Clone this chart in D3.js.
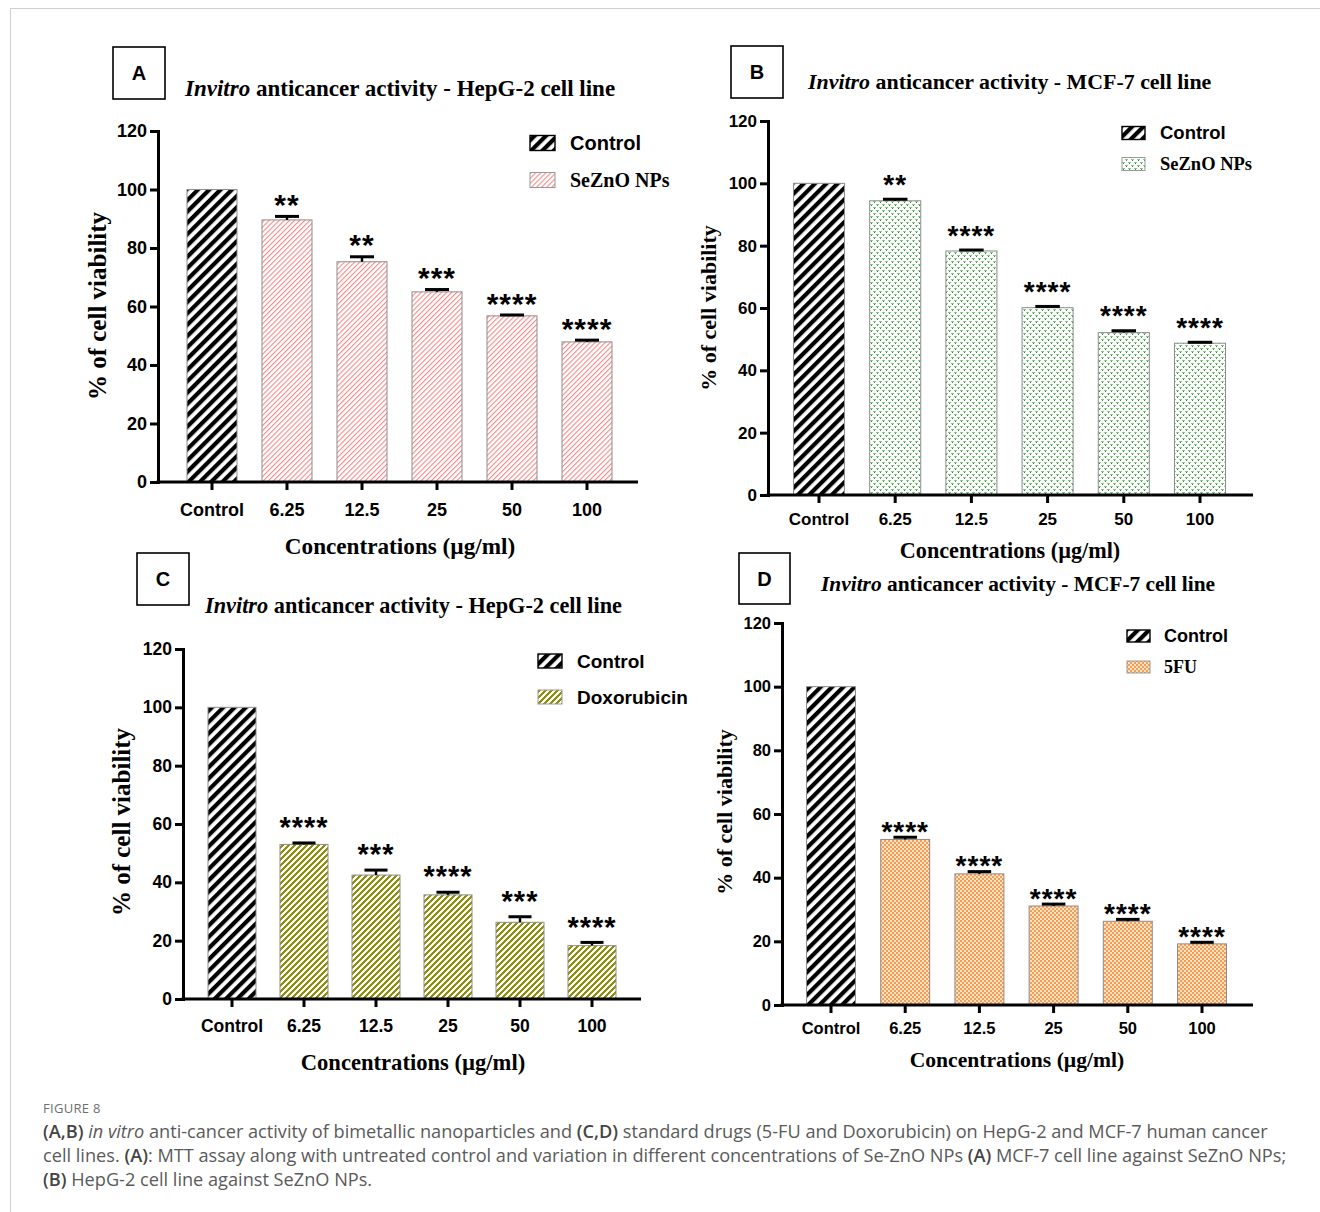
<!DOCTYPE html>
<html>
<head>
<meta charset="utf-8">
<script src="https://cdn.jsdelivr.net/npm/d3@7"></script>
<style>
  body { margin: 0; background: #fff; }
  svg { display: block; }
</style>
</head>
<body>
<svg id="fig" width="1320" height="1212"></svg>
<script>
// ---- data ----
const categories = ["Control", "6.25", "12.5", "25", "50", "100"];
const yTicks = [0, 20, 40, 60, 80, 100, 120];

// HepG-2, SeZnO NPs
const hepgSeZnO = [100, 89.6, 75.3, 65.0, 56.8, 47.9];
const hepgSeZnOErr = [0, 1.2, 1.7, 0.8, 0.3, 0.6];
const hepgSeZnOStars = ["", "**", "**", "***", "****", "****"];

// MCF-7, SeZnO NPs
const mcfSeZnO = [100, 94.4, 78.3, 60.1, 52.1, 48.7];
const mcfSeZnOErr = [0, 0.5, 0.3, 0.4, 0.6, 0.3];
const mcfSeZnOStars = ["", "**", "****", "****", "****", "****"];

// HepG-2, Doxorubicin
const hepgDox = [100, 53.0, 42.5, 35.7, 26.3, 18.3];
const hepgDoxErr = [0, 0.5, 1.7, 0.9, 1.9, 1.1];
const hepgDoxStars = ["", "****", "***", "****", "***", "****"];

// MCF-7, 5FU
const mcf5fu = [100, 52.0, 41.2, 31.1, 26.3, 19.2];
const mcf5fuErr = [0, 0.7, 0.7, 0.6, 0.6, 0.5];
const mcf5fuStars = ["", "****", "****", "****", "****", "****"];

const SANS = "'Liberation Sans', Arial, sans-serif";
const SERIF = "'Liberation Serif', 'Times New Roman', serif";

const svg = d3.select("#fig");
const defs = svg.append("defs");

// ---- fill patterns ----
function stripes(id, period, thick, color, bg) {
  const p = defs.append("pattern").attr("id", id)
    .attr("patternUnits", "userSpaceOnUse")
    .attr("width", period).attr("height", period)
    .attr("patternTransform", "rotate(45)");
  p.append("rect").attr("width", period).attr("height", period).attr("fill", bg);
  p.append("rect").attr("width", thick).attr("height", period).attr("fill", color);
}
stripes("pControl", 8, 4.2, "#000", "#fff");
stripes("pPink", 3.6, 1.1, "#f28a8a", "#fff");

// olive stair-step diagonal pattern
(function () {
  const p = defs.append("pattern").attr("id", "pOlive")
    .attr("patternUnits", "userSpaceOnUse").attr("width", 6).attr("height", 6);
  p.append("rect").attr("width", 6).attr("height", 6).attr("fill", "#fff");
  [[0, 4], [1, 3], [2, 2], [3, 1], [4, 0], [5, 5]].forEach(([x0, y0]) => {
    p.append("rect").attr("x", x0).attr("y", y0).attr("width", 2).attr("height", 2).attr("fill", "#8f8f0c");
  });
  p.append("rect").attr("x", 0).attr("y", 0).attr("width", 1).attr("height", 1).attr("fill", "#8f8f0c");
})();

// green dotted pattern
(function () {
  const p = defs.append("pattern").attr("id", "pGreen")
    .attr("patternUnits", "userSpaceOnUse").attr("width", 6).attr("height", 6);
  p.append("rect").attr("width", 6).attr("height", 6).attr("fill", "#fff");
  [[0, 0], [3, 3]].forEach(([x0, y0]) => {
    p.append("rect").attr("x", x0).attr("y", y0).attr("width", 3).attr("height", 1).attr("fill", "#86c886");
    p.append("rect").attr("x", x0 + 1).attr("y", y0 + 1).attr("width", 1).attr("height", 1).attr("fill", "#2f8f2f");
  });
})();

// orange checker pattern
(function () {
  const p = defs.append("pattern").attr("id", "pOrange")
    .attr("patternUnits", "userSpaceOnUse").attr("width", 4).attr("height", 4);
  p.append("rect").attr("width", 4).attr("height", 4).attr("fill", "#fde2c8");
  p.append("rect").attr("x", 0).attr("y", 0).attr("width", 2).attr("height", 2).attr("fill", "#f59d50");
  p.append("rect").attr("x", 2).attr("y", 2).attr("width", 2).attr("height", 2).attr("fill", "#f59d50");
})();

// ---- figure frame ----
svg.append("line").attr("x1", 10).attr("x2", 1320).attr("y1", 8.5).attr("y2", 8.5)
  .attr("stroke", "#cfcfcf").attr("stroke-width", 1);
svg.append("line").attr("x1", 10.5).attr("x2", 10.5).attr("y1", 8).attr("y2", 1212)
  .attr("stroke", "#cfcfcf").attr("stroke-width", 1);

// ---- one bar-chart panel ----
function drawPanel(cfg) {
  const g = svg.append("g");

  // letter box
  g.append("rect").attr("x", cfg.box.x).attr("y", cfg.box.y)
    .attr("width", cfg.box.s).attr("height", cfg.box.s)
    .attr("fill", "none").attr("stroke", "#000").attr("stroke-width", 1.6);
  g.append("text").attr("x", cfg.box.x + cfg.box.s / 2).attr("y", cfg.box.y + cfg.box.s / 2 + 7)
    .attr("text-anchor", "middle").attr("font-family", SANS).attr("font-weight", "bold")
    .attr("font-size", 20).text(cfg.letter);

  // title
  const t = g.append("text").attr("x", cfg.title.x).attr("y", cfg.title.y)
    .attr("font-family", SERIF).attr("font-weight", "bold").attr("font-size", cfg.title.size);
  t.append("tspan").attr("font-style", "italic").text("Invitro");
  t.append("tspan").text(" anticancer activity - " + cfg.cell + " cell line");

  const y = d3.scaleLinear().domain([0, 120]).range([cfg.yBottom, cfg.yTop]);
  const x = d3.scaleBand().domain(categories).range(cfg.band)
    .paddingInner(cfg.padIn).paddingOuter(cfg.padIn / 2);

  // bars
  g.selectAll("rect.bar").data(categories).enter().append("rect")
    .attr("class", "bar")
    .attr("x", d => x(d)).attr("width", x.bandwidth())
    .attr("y", (d, i) => y(cfg.values[i]))
    .attr("height", (d, i) => y(0) - y(cfg.values[i]))
    .attr("fill", (d, i) => i === 0 ? "url(#pControl)" : `url(#${cfg.pattern})`)
    .attr("stroke", "#8d8d8d").attr("stroke-width", 1);

  // error bars (upper half) and significance stars
  const capW = x.bandwidth() * 0.48;
  categories.forEach((d, i) => {
    const cx = x(d) + x.bandwidth() / 2;
    const e = cfg.errors[i];
    if (e > 0) {
      g.append("line").attr("x1", cx).attr("x2", cx)
        .attr("y1", y(cfg.values[i])).attr("y2", y(cfg.values[i] + e))
        .attr("stroke", "#000").attr("stroke-width", 2.4);
      g.append("line").attr("x1", cx - capW / 2).attr("x2", cx + capW / 2)
        .attr("y1", y(cfg.values[i] + e)).attr("y2", y(cfg.values[i] + e))
        .attr("stroke", "#000").attr("stroke-width", 3);
    }
    if (cfg.stars[i]) {
      const centre = y(cfg.values[i] + e) - cfg.starGap;
      g.append("text").attr("x", cx).attr("y", centre + 0.557 * cfg.starSize)
        .attr("text-anchor", "middle").attr("font-family", SANS).attr("font-weight", "bold")
        .attr("font-size", cfg.starSize).attr("letter-spacing", cfg.starSpacing)
        .text(cfg.stars[i]);
    }
  });

  // y axis
  const ya = g.append("g").attr("transform", `translate(${cfg.yAxisX},0)`)
    .call(d3.axisLeft(y).tickValues(yTicks).tickSize(8).tickSizeOuter(0).tickPadding(3));
  ya.select(".domain").attr("stroke-width", 3).attr("stroke-linecap", "square");
  ya.selectAll(".tick line").attr("stroke-width", 3);
  ya.selectAll(".tick text").attr("font-family", SANS).attr("font-weight", "bold")
    .attr("font-size", cfg.tickSize).attr("fill", "#000");

  // x axis
  const pad = cfg.xLabelY - cfg.yBottom - 8 - 0.71 * cfg.tickSize;
  const xa = g.append("g").attr("transform", `translate(0,${cfg.yBottom})`)
    .call(d3.axisBottom(x).tickSize(8).tickSizeOuter(0).tickPadding(pad));
  xa.select(".domain").remove();
  xa.selectAll(".tick line").attr("stroke-width", 3);
  xa.selectAll(".tick text").attr("font-family", SANS).attr("font-weight", "bold")
    .attr("font-size", cfg.tickSize).attr("fill", "#000");
  g.append("line").attr("x1", cfg.yAxisX - 1.5).attr("x2", cfg.xEnd)
    .attr("y1", cfg.yBottom).attr("y2", cfg.yBottom)
    .attr("stroke", "#000").attr("stroke-width", 3.2);

  // axis titles
  g.append("text").attr("transform", `translate(${cfg.yLabel.x},${cfg.yLabel.y}) rotate(-90)`)
    .attr("text-anchor", "middle").attr("font-family", SERIF).attr("font-weight", "bold")
    .attr("font-size", cfg.yLabel.size).text("% of cell viability");
  g.append("text").attr("x", cfg.xTitle.x).attr("y", cfg.xTitle.y)
    .attr("text-anchor", "middle").attr("font-family", SERIF).attr("font-weight", "bold")
    .attr("font-size", cfg.xTitle.size).text("Concentrations (µg/ml)");

  // legend
  const L = cfg.legend;
  const items = [
    { name: "Control", fill: "url(#pControl)", font: SANS },
    { name: cfg.seriesName, fill: `url(#${cfg.pattern})`, font: cfg.seriesFont }
  ];
  items.forEach((it, k) => {
    const ly = L.ys[k];
    g.append("rect").attr("x", L.x).attr("y", ly - L.h / 2).attr("width", L.w).attr("height", L.h)
      .attr("fill", it.fill).attr("stroke", k === 0 ? "#000" : "#999").attr("stroke-width", k === 0 ? 1.4 : 1);
    g.append("text").attr("x", L.tx).attr("y", ly).attr("dy", "0.35em")
      .attr("font-family", it.font).attr("font-weight", "bold").attr("font-size", L.size)
      .text(it.name);
  });
}

drawPanel({
  letter: "A", cell: "HepG-2",
  box: { x: 113, y: 47, s: 52 },
  title: { x: 185, y: 96, size: 23 },
  yAxisX: 158, yTop: 131, yBottom: 482, xEnd: 638,
  band: [174.5, 624.5], padIn: 1 / 3,
  tickSize: 18, xLabelY: 515.5,
  values: hepgSeZnO, errors: hepgSeZnOErr, stars: hepgSeZnOStars,
  starSize: 30, starGap: 18, starSpacing: 1,
  pattern: "pPink", seriesName: "SeZnO NPs", seriesFont: SERIF,
  legend: { x: 530, ys: [143, 180], w: 25, h: 15, tx: 570, size: 20 },
  yLabel: { x: 106, y: 306, size: 25 },
  xTitle: { x: 400, y: 554, size: 23.2 }
});

drawPanel({
  letter: "B", cell: "MCF-7",
  box: { x: 731, y: 46, s: 52 },
  title: { x: 808, y: 89, size: 21.9 },
  yAxisX: 768, yTop: 121, yBottom: 495, xEnd: 1253,
  band: [780.9, 1238.1], padIn: 0.33,
  tickSize: 17, xLabelY: 525,
  values: mcfSeZnO, errors: mcfSeZnOErr, stars: mcfSeZnOStars,
  starSize: 28, starGap: 21, starSpacing: 1,
  pattern: "pGreen", seriesName: "SeZnO NPs", seriesFont: SERIF,
  legend: { x: 1122, ys: [133, 164], w: 23, h: 13, tx: 1160, size: 18.5 },
  yLabel: { x: 716, y: 308, size: 22 },
  xTitle: { x: 1010, y: 558, size: 22.2 }
});

drawPanel({
  letter: "C", cell: "HepG-2",
  box: { x: 137, y: 553, s: 52 },
  title: { x: 205, y: 613, size: 22.3 },
  yAxisX: 183, yTop: 649, yBottom: 999, xEnd: 641,
  band: [196, 628], padIn: 1 / 3,
  tickSize: 17.5, xLabelY: 1032,
  values: hepgDox, errors: hepgDoxErr, stars: hepgDoxStars,
  starSize: 29, starGap: 22, starSpacing: 1,
  pattern: "pOlive", seriesName: "Doxorubicin", seriesFont: SANS,
  legend: { x: 538, ys: [661, 697], w: 24, h: 14, tx: 577, size: 19 },
  yLabel: { x: 130, y: 822, size: 25 },
  xTitle: { x: 413, y: 1070, size: 22.6 }
});

drawPanel({
  letter: "D", cell: "MCF-7",
  box: { x: 739, y: 553, s: 51 },
  title: { x: 821, y: 591, size: 21.4 },
  yAxisX: 782, yTop: 623, yBottom: 1005, xEnd: 1253,
  band: [793.9, 1239.1], padIn: 0.34,
  tickSize: 16.5, xLabelY: 1034,
  values: mcf5fu, errors: mcf5fuErr, stars: mcf5fuStars,
  starSize: 28, starGap: 12, starSpacing: 1,
  pattern: "pOrange", seriesName: "5FU", seriesFont: SERIF,
  legend: { x: 1127, ys: [636, 667], w: 23, h: 12, tx: 1164, size: 18 },
  yLabel: { x: 732, y: 812, size: 22 },
  xTitle: { x: 1017, y: 1067, size: 21.6 }
});

// ---- caption ----
const CAP = "'Open Sans', 'Noto Sans', sans-serif";
svg.append("text").attr("x", 43).attr("y", 1113).attr("font-family", CAP)
  .attr("font-size", 13).attr("fill", "#6f6f6f").attr("letter-spacing", 0.3).text("FIGURE 8");

const captionLines = [
  [["b", "(A,B)"], ["i", " in vitro"], ["n", " anti-cancer activity of bimetallic nanoparticles and "], ["b", "(C,D)"],
   ["n", " standard drugs (5-FU and Doxorubicin) on HepG-2 and MCF-7 human cancer"]],
  [["n", "cell lines. "], ["b", "(A)"], ["n", ": MTT assay along with untreated control and variation in different concentrations of Se-ZnO NPs "],
   ["b", "(A)"], ["n", " MCF-7 cell line against SeZnO NPs;"]],
  [["b", "(B)"], ["n", " HepG-2 cell line against SeZnO NPs."]]
];
const capY = [1138, 1162, 1186];
const capNodes = captionLines.map((segs, li) => {
  const t = svg.append("text").attr("x", 43).attr("y", capY[li]).attr("font-family", CAP)
    .attr("font-size", 16).attr("fill", "#5a5a5a");
  segs.forEach(([k, s]) => {
    const ts = t.append("tspan").text(s);
    if (k === "b") ts.attr("font-weight", 600).attr("fill", "#444");
    if (k === "i") ts.attr("font-style", "italic");
  });
  return t;
});
// scale the caption type so the first line spans the text column
const w0 = capNodes[0].node().getComputedTextLength();
const capSize = 16 * 1225 / w0;
capNodes.forEach(t => t.attr("font-size", capSize));
</script>
</body>
</html>
